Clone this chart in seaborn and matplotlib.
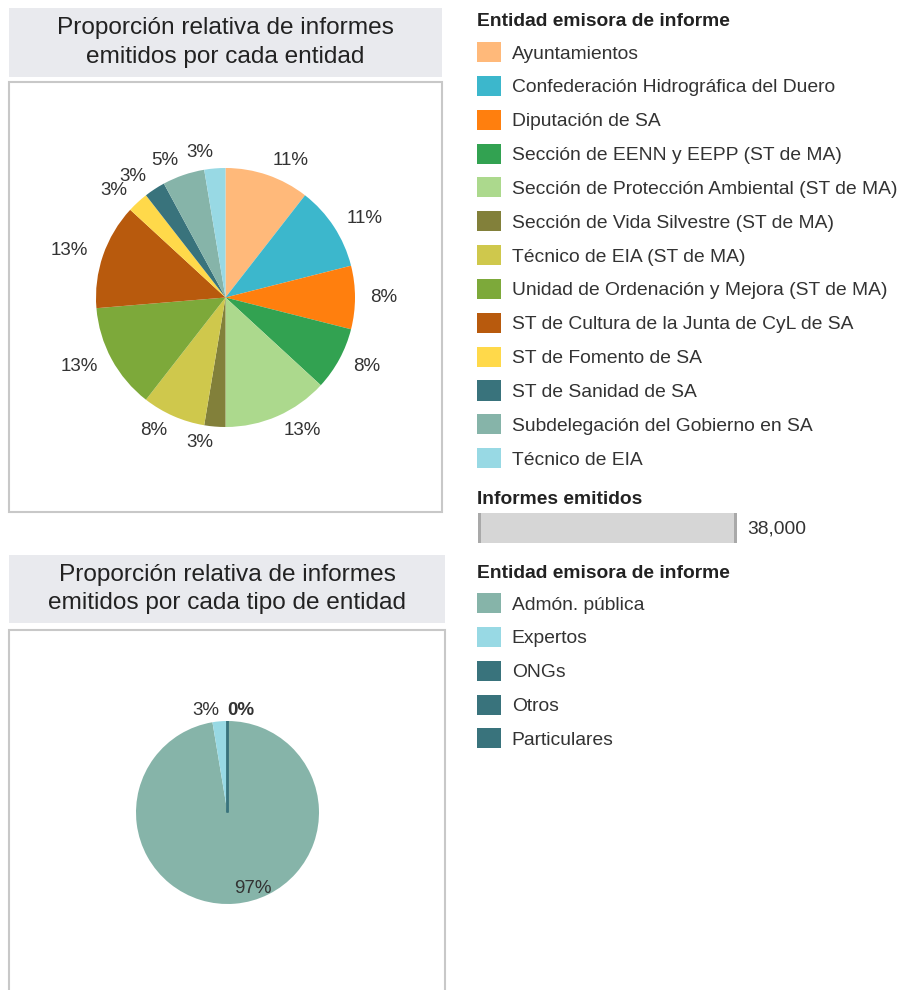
import matplotlib
matplotlib.use("Agg")
import matplotlib.pyplot as plt
from matplotlib.patches import Rectangle, Patch
import seaborn as sns
import numpy as np

# data
entidades = ["Ayuntamientos", "Confederación Hidrográfica del Duero", "Diputación de SA",
             "Sección de EENN y EEPP (ST de MA)", "Sección de Protección Ambiental (ST de MA)",
             "Sección de Vida Silvestre (ST de MA)", "Técnico de EIA (ST de MA)",
             "Unidad de Ordenación y Mejora (ST de MA)", "ST de Cultura de la Junta de CyL de SA",
             "ST de Fomento de SA", "ST de Sanidad de SA", "Subdelegación del Gobierno en SA",
             "Técnico de EIA"]
informes_entidad = [4, 4, 3, 3, 5, 1, 3, 5, 5, 1, 1, 2, 1]
colores_entidad = ["#FFB97A", "#3CB7CC", "#FF7F0E", "#32A251", "#ACD98D", "#82803A", "#CFC84C",
                   "#7DA93A", "#B85A0D", "#FFD94A", "#39737C", "#86B4A9", "#98D9E4"]

tipos = ["Admón. pública", "Expertos", "ONGs", "Otros", "Particulares"]
informes_tipo = [37, 1, 0, 0, 0]
colores_tipo = ["#86B4A9", "#98D9E4", "#39737C", "#39737C", "#39737C"]

titulo_1 = "Proporción relativa de informes\nemitidos por cada entidad"
titulo_2 = "Proporción relativa de informes\nemitidos por cada tipo de entidad"
leyenda_titulo = "Entidad emisora de informe"
filtro_titulo = "Informes emitidos"
filtro_valor = "38,000"

sns.set_theme(style="white")
plt.rcParams["font.family"] = ["Liberation Sans", "DejaVu Sans"]

W, H = 900, 990
TXT = "#333333"
FS = 13.9
fig = plt.figure(figsize=(W / 100, H / 100), dpi=100)


def box(x0, y0, x1, y1):
    return [x0 / W, 1 - y1 / H, (x1 - x0) / W, (y1 - y0) / H]


def rect(x0, y0, x1, y1, **kw):
    fig.patches.append(Rectangle((x0 / W, 1 - y1 / H), (x1 - x0) / W, (y1 - y0) / H,
                                 transform=fig.transFigure, zorder=-1, **kw))


def panel(y_title, y_title_end, y_box, y_box_end, x1, title):
    rect(9, y_title, x1, y_title_end, facecolor="#E9EAEE", edgecolor="none")
    fig.text((9 + x1) / 2 / W, 1 - (y_title + y_title_end) / 2 / H, title, ha="center", va="center",
             fontsize=17.6, color="#222222", linespacing=1.4)
    rect(9, y_box, x1, y_box_end, facecolor="white", edgecolor="#C8C8C8", linewidth=1.5)


def draw_pie(cx, cy, r, values, colors, big_inside=False):
    L = 1.5
    side = 2 * L * r
    ax = fig.add_axes(box(cx - side / 2, cy - side / 2, cx + side / 2, cy + side / 2))
    ax.set_zorder(2)
    total = sum(values)
    labels = [f"{round(v / total * 100)}%" for v in values]
    wedges, texts = ax.pie(values, labels=labels, colors=sns.color_palette(colors),
                           startangle=90, counterclock=False, labeldistance=1.12,
                           wedgeprops=dict(linewidth=0),
                           textprops=dict(fontsize=13.5, color=TXT))
    zero_seen = False
    for w, t, v in zip(wedges, texts, values):
        if v == 0:
            w.set_linewidth(1.5)
            w.set_edgecolor(w.get_facecolor())
            # zero slices share one spot: Tableau stacks them, which reads as bold
            if zero_seen:
                t.set_visible(False)
            else:
                t.set_fontweight("bold")
                t.set_horizontalalignment("left")
                zero_seen = True
        if big_inside and v / total > 0.5:
            ang = np.deg2rad((w.theta1 + w.theta2) / 2)
            t.set_position((0.83 * np.cos(ang), 0.83 * np.sin(ang)))
    ax.set_xlim(-L, L)
    ax.set_ylim(-L, L)
    ax.axis("off")
    return ax


def legend(names, colors, y_title, y_top):
    fig.text(477 / W, 1 - y_title / H, leyenda_titulo, ha="left", va="center", fontsize=FS,
             fontweight="bold", color="#222222")
    handles = [Patch(facecolor=c, edgecolor="none") for c in colors]
    leg = fig.legend(handles, names, loc="upper left", bbox_to_anchor=(477 / W, 1 - y_top / H),
                     frameon=False, fontsize=FS, alignment="left",
                     handlelength=1.22, handleheight=1.22, handletextpad=0.58, labelspacing=0.69,
                     borderpad=0, borderaxespad=0)
    for t in leg.get_texts():
        t.set_color(TXT)
    return leg


# top panel
panel(8, 77, 82, 512, 442, titulo_1)
draw_pie(225.5, 297.5, 129.5, informes_entidad, colores_entidad)
legend(entidades, colores_entidad, 21, 42)

# filter widget
fig.text(477 / W, 1 - 499 / H, filtro_titulo, ha="left", va="center", fontsize=FS,
         fontweight="bold", color="#222222")
rect(478, 513, 737, 543, facecolor="#D6D6D6", edgecolor="none")
rect(478, 513, 481, 543, facecolor="#A9A9A9", edgecolor="none")
rect(734, 513, 737, 543, facecolor="#A9A9A9", edgecolor="none")
fig.text(747 / W, 1 - 529 / H, filtro_valor, ha="left", va="center", fontsize=FS, color=TXT)

# bottom panel
panel(555, 623, 630, 1000, 445, titulo_2)
draw_pie(227.5, 812.5, 91.5, informes_tipo, colores_tipo, big_inside=True)
legend(tipos, colores_tipo, 573, 593)

fig.savefig("out.png", dpi=100)
